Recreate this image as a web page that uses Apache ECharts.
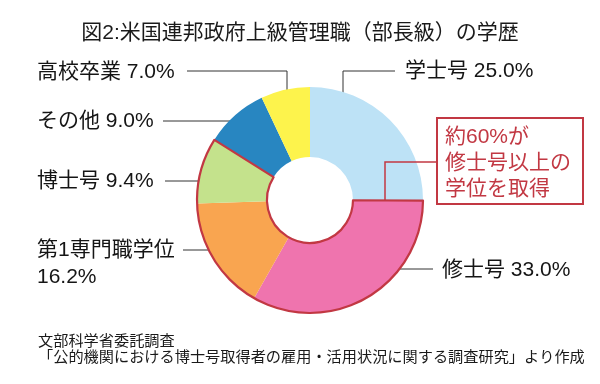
<!DOCTYPE html>
<html>
<head>
<meta charset="utf-8">
<script src="https://cdn.jsdelivr.net/npm/echarts@6/dist/echarts.min.js"></script>
<style>
html,body{margin:0;padding:0;background:#fff;}
#c{width:600px;height:384px;}
</style>
</head>
<body>
<div id="c"></div>
<script>
// ---- data ----
const categories = ['学士号', '修士号', '第1専門職学位', '博士号', 'その他', '高校卒業'];
const shares = [25.0, 33.0, 16.2, 9.4, 9.0, 7.0];
const highlighted = ['修士号', '第1専門職学位', '博士号'];
const titleText = '図2:米国連邦政府上級管理職（部長級）の学歴';
const noteLines = ['約60%が', '修士号以上の', '学位を取得'];
const sourceLines = ['文部科学省委託調査', '「公的機関における博士号取得者の雇用・活用状況に関する調査研究」より作成'];

// ---- styles / layout ----
const colors = ['#bde2f6', '#ef74ae', '#f9a550', '#c4e28c', '#2886c1', '#fdf34c'];
const red = '#c23843';
const FONT = "'Liberation Sans', 'Noto Sans CJK JP', sans-serif";
const CENTER = [310, 200];
const RADII = [43, 113];
const labelPos = [
  { x: 405, y: 71, line: [[343, 110], [343, 71], [395, 71]] },
  { x: 442, y: 270, line: [[345, 269], [433, 269]] },
  { x: 37, y: 263.5, line: [[183, 250], [240, 250]] },
  { x: 37, y: 181, line: [[165, 181], [240, 181]] },
  { x: 37, y: 121, line: [[163, 121], [240, 121]] },
  { x: 37, y: 72, line: [[187, 71], [287, 71], [287, 110]] }
];

const mainData = categories.map((c, i) => ({
  name: c, value: shares[i], itemStyle: { color: colors[i] }
}));

// overlay outline: before-group, group, after-group
let idxs = highlighted.map(h => categories.indexOf(h));
const first = Math.min(...idxs), last = Math.max(...idxs);
const before = shares.slice(0, first).reduce((a, b) => a + b, 0);
const group = shares.slice(first, last + 1).reduce((a, b) => a + b, 0);
const after = shares.slice(last + 1).reduce((a, b) => a + b, 0);
const clear = 'rgba(0,0,0,0)';
const overlayData = [
  { value: before, itemStyle: { color: clear, borderWidth: 0 } },
  { value: group, itemStyle: { color: clear, borderColor: red, borderWidth: 2.2 } },
  { value: after, itemStyle: { color: clear, borderWidth: 0 } }
];

const chart = echarts.init(document.getElementById('c'), null, { renderer: 'canvas' });
chart.setOption({
  animation: false,
  backgroundColor: '#fff',
  title: [
    { text: titleText, left: 'center', top: 18,
      textStyle: { fontFamily: FONT, fontSize: 21, fontWeight: 'normal', color: '#1a1a1a' } },
    { text: sourceLines.join('\n'), left: 33, top: 329,
      textStyle: { fontFamily: FONT, fontSize: 15.2, fontWeight: 'normal', color: '#1a1a1a', lineHeight: 16 } }
  ],
  series: [
    {
      type: 'pie',
      center: CENTER,
      radius: RADII,
      startAngle: 90,
      clockwise: true,
      avoidLabelOverlap: false,
      silent: true,
      itemStyle: { borderWidth: 0 },
      label: {
        show: true,
        position: 'outside',
        fontFamily: FONT,
        fontSize: 21,
        color: '#151515',
        lineHeight: 27,
        formatter: p => p.name === '第1専門職学位'
          ? p.name + '\n' + p.value.toFixed(1) + '%'
          : p.name + ' ' + p.value.toFixed(1) + '%'
      },
      labelLine: { show: true, lineStyle: { color: '#333', width: 1 } },
      labelLayout: params => {
        const L = labelPos[params.dataIndex];
        return { x: L.x, y: L.y, align: 'left', verticalAlign: 'middle', labelLinePoints: L.line };
      },
      emphasis: { disabled: true },
      data: mainData,
      z: 2
    },
    {
      type: 'pie',
      center: CENTER,
      radius: RADII,
      startAngle: 90,
      clockwise: true,
      silent: true,
      label: { show: false },
      labelLine: { show: false },
      emphasis: { disabled: true },
      data: overlayData,
      z: 3
    }
  ],
  graphic: [
    { type: 'polyline', shape: { points: [[437, 162], [385, 162], [385, 200]] },
      style: { stroke: red, lineWidth: 1.5, fill: null }, z: 10 },
    { type: 'rect', shape: { x: 437, y: 118, width: 146, height: 86 },
      style: { stroke: red, lineWidth: 2, fill: '#fff' }, z: 10 },
    { type: 'text', x: 445, y: 124, z: 11,
      style: { text: noteLines.join('\n'), font: "21px " + FONT, fill: red, lineHeight: 26 } }
  ]
});
</script>
</body>
</html>
